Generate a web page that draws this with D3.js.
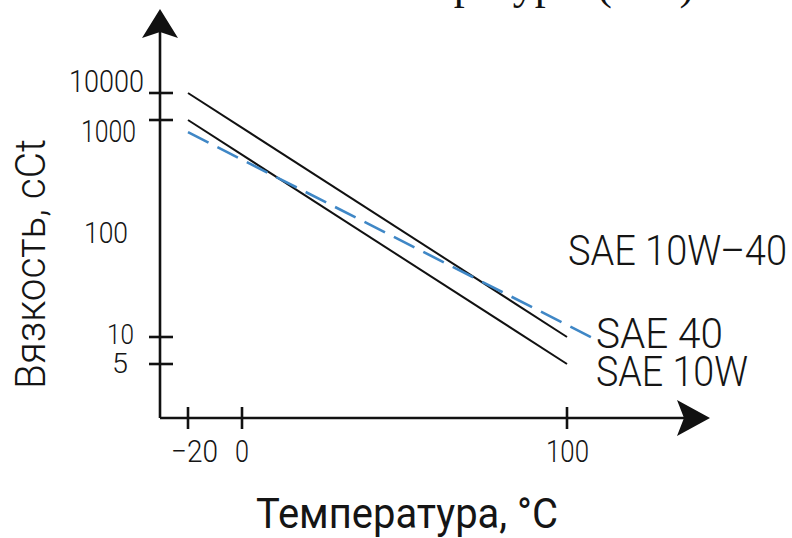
<!DOCTYPE html>
<html>
<head>
<meta charset="utf-8">
<script src="https://cdn.jsdelivr.net/npm/d3@7"></script>
<style>
  html, body { margin: 0; padding: 0; background: #ffffff; }
  svg { display: block; }
  .lbl { font-family: Roboto, "Open Sans", "DejaVu Sans", sans-serif; font-weight: 300; fill: #151515; }
</style>
</head>
<body>
<svg id="chart" width="792" height="538"></svg>
<script>
// ---------- data ----------
const xTickValues = [-20, 0, 100];                 // temperature ticks, °C
const yTickValues = [10000, 1000, 10, 5];          // viscosity ticks with marks
const yLabelValues = [10000, 1000, 100, 10, 5];    // viscosity labels

const sae40Temp = [-20, 100];
const sae40Visc = [10000, 10];
const sae10wTemp = [-20, 100];
const sae10wVisc = [1000, 5];
const sae10w40Temp = [-20, 108.5];
const sae10w40Visc = [780, 9.5];

const seriesNames = ["SAE 40", "SAE 10W", "SAE 10W\u201340"];
const xTitle = "Температура, °С";
const yTitle = "Вязкость, сСt";
const headingFragment = "температуры (сСт)";

// ---------- layout ----------
const svg = d3.select("#chart");
const origin = { x: 160, y: 418 };
const x = d3.scaleLinear().domain([-20, 0, 100]).range([188, 242, 567]);
const yLog = d3.scaleLinear()
  .domain([Math.log10(5), 1, 2, 3, 4])
  .range([364, 337, 233, 120, 93]);
const y = v => yLog(Math.log10(v));

// heading fragment cut at top (only descenders visible)
svg.append("text")
  .attr("x", 344).attr("y", -1)
  .attr("font-family", "Liberation Serif, Times New Roman, serif")
  .attr("font-size", 44).attr("fill", "#111")
  .text(headingFragment);

// ---------- axes ----------
const axisG = svg.append("g").attr("stroke", "#111").attr("stroke-width", 2.6);
axisG.append("line").attr("x1", origin.x).attr("y1", origin.y).attr("x2", origin.x).attr("y2", 32);
axisG.append("line").attr("x1", origin.x).attr("y1", origin.y).attr("x2", 686).attr("y2", origin.y);

// arrow heads
svg.append("path")
  .attr("d", `M${origin.x},9 L${origin.x + 18},38 L${origin.x},32 L${origin.x - 18},38 Z`)
  .attr("fill", "#111");
svg.append("path")
  .attr("d", `M710,${origin.y} L677,${origin.y - 18} L684,${origin.y} L677,${origin.y + 18} Z`)
  .attr("fill", "#111");

// y ticks (crossing the axis)
axisG.selectAll(".yt").data(yTickValues).join("line")
  .attr("class", "yt")
  .attr("x1", origin.x - 11).attr("x2", origin.x + 13)
  .attr("y1", d => y(d)).attr("y2", d => y(d));

// x ticks
axisG.selectAll(".xt").data(xTickValues).join("line")
  .attr("class", "xt")
  .attr("x1", d => x(d)).attr("x2", d => x(d))
  .attr("y1", origin.y - 11).attr("y2", origin.y + 11);

// y tick labels (individual placement as in the sketch)
const yLabelLayout = {
  10000: { left: 69,  w: 75, dy: -1, size: 31 },
  1000:  { left: 81,  w: 55, dy: 22, size: 31 },
  100:   { left: 84,  w: 44, dy: 10, size: 30 },
  10:    { left: 107, w: 27, dy: 7,  size: 27 },
  5:     { left: 112, w: 16, dy: 9,  size: 27 }
};
svg.selectAll(".yl").data(yLabelValues).join("text")
  .attr("class", "lbl yl")
  .attr("x", d => yLabelLayout[d].left)
  .attr("y", d => y(d) + yLabelLayout[d].dy)
  .attr("font-size", d => yLabelLayout[d].size)
  .attr("textLength", d => yLabelLayout[d].w)
  .attr("lengthAdjust", "spacingAndGlyphs")
  .text(d => d3.format("d")(d));

// x tick labels
const fmt = d3.format("d");
const xLabelLayout = { "-20": { dx: -17, w: 47 }, "0": { dx: -7, w: 14 }, "100": { dx: -21, w: 43 } };
svg.selectAll(".xl").data(xTickValues).join("text")
  .attr("class", "lbl xl")
  .attr("x", d => x(d) + xLabelLayout[d].dx)
  .attr("y", 462)
  .attr("font-size", 31)
  .attr("textLength", d => xLabelLayout[d].w)
  .attr("lengthAdjust", "spacingAndGlyphs")
  .text(d => fmt(d));

// ---------- series ----------
const line = d3.line().x(d => x(d[0])).y(d => y(d[1]));
const toPts = (t, v) => t.map((tt, i) => [tt, v[i]]);

svg.append("path").datum(toPts(sae40Temp, sae40Visc))
  .attr("d", line).attr("fill", "none").attr("stroke", "#111").attr("stroke-width", 2);
svg.append("path").datum(toPts(sae10wTemp, sae10wVisc))
  .attr("d", line).attr("fill", "none").attr("stroke", "#111").attr("stroke-width", 2);
svg.append("path").datum(toPts(sae10w40Temp, sae10w40Visc))
  .attr("d", line).attr("fill", "none").attr("stroke", "#3f87c6")
  .attr("stroke-width", 2.6).attr("stroke-dasharray", "23,10");

// series labels
const seriesLabelLayout = [
  { name: seriesNames[2], x: 568, y: 265, w: 219 },
  { name: seriesNames[0], x: 596, y: 348, w: 127 },
  { name: seriesNames[1], x: 596, y: 386, w: 152 }
];
svg.selectAll(".sl").data(seriesLabelLayout).join("text")
  .attr("class", "lbl sl")
  .attr("x", d => d.x).attr("y", d => d.y)
  .attr("font-size", 42)
  .attr("textLength", d => d.w)
  .attr("lengthAdjust", "spacingAndGlyphs")
  .text(d => d.name);

// axis titles
svg.append("text").attr("class", "lbl")
  .attr("x", 256).attr("y", 528)
  .attr("font-size", 42)
  .style("font-weight", 400)
  .attr("textLength", 302)
  .attr("lengthAdjust", "spacingAndGlyphs")
  .text(xTitle);

svg.append("text").attr("class", "lbl")
  .attr("transform", "translate(45,389) rotate(-90)")
  .attr("font-size", 42)
  .attr("textLength", 250)
  .attr("lengthAdjust", "spacingAndGlyphs")
  .text(yTitle);
</script>
</body>
</html>
